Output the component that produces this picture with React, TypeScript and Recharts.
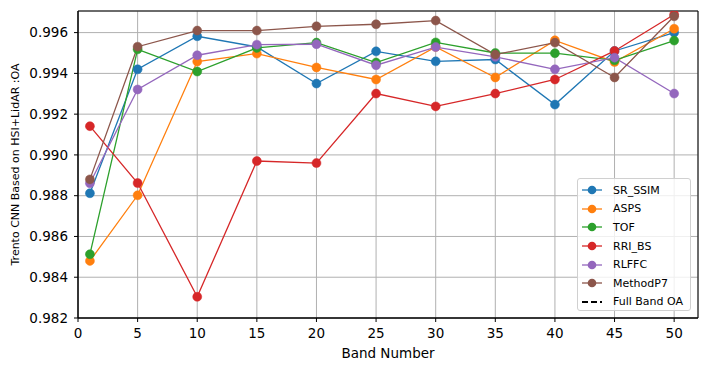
import React from 'react';
import { LineChart, Line, XAxis, YAxis, CartesianGrid, ReferenceArea, Label } from 'recharts';

const bands = [1, 5, 10, 15, 20, 25, 30, 35, 40, 45, 50];

const srSsim = [0.98812, 0.9942, 0.99582, 0.9953, 0.9935, 0.99508, 0.99459, 0.99468, 0.99247, 0.9951, 0.996];
const asps = [0.9848, 0.98802, 0.99458, 0.99497, 0.99429, 0.9937, 0.9953, 0.9938, 0.99562, 0.99456, 0.99619];
const tof = [0.98513, 0.99518, 0.99409, 0.99525, 0.99551, 0.99453, 0.99552, 0.995, 0.99499, 0.99464, 0.99561];
const rriBs = [0.99141, 0.98862, 0.98304, 0.9897, 0.9896, 0.99301, 0.99238, 0.99301, 0.9937, 0.9951, 0.99689];
const rlffc = [0.98861, 0.99321, 0.99489, 0.99541, 0.99543, 0.9944, 0.99529, 0.99481, 0.9942, 0.99477, 0.99301];
const methodP7 = [0.9888, 0.99531, 0.9961, 0.9961, 0.99631, 0.99641, 0.99659, 0.99492, 0.99551, 0.9938, 0.9968];

const xTicks = [0, 5, 10, 15, 20, 25, 30, 35, 40, 45, 50];
const yTicks = [0.982, 0.984, 0.986, 0.988, 0.99, 0.992, 0.994, 0.996];

const series = [
  { key: 'SR_SSIM', values: srSsim, color: '#1f77b4' },
  { key: 'ASPS', values: asps, color: '#ff7f0e' },
  { key: 'TOF', values: tof, color: '#2ca02c' },
  { key: 'RRI_BS', values: rriBs, color: '#d62728' },
  { key: 'RLFFC', values: rlffc, color: '#9467bd' },
  { key: 'MethodP7', values: methodP7, color: '#8c564b' },
];

const data = bands.map((b, i) => {
  const row: Record<string, number> = { band: b };
  series.forEach((s) => {
    row[s.key] = s.values[i];
  });
  return row;
});

const font = '"DejaVu Sans", sans-serif';
const Y_MIN = 0.982;
const Y_MAX = 0.99706;

const ChartLegend = () => (
  <div
    style={{
      position: 'absolute',
      left: 577,
      top: 178,
      width: 114,
      height: 133,
      boxSizing: 'border-box',
      border: '1px solid #d0d0d0',
      borderRadius: 3,
      background: 'rgba(255,255,255,0.8)',
      fontFamily: font,
      fontSize: 11,
      color: '#000',
      paddingTop: 2,
    }}
  >
    {series.map((s) => (
      <div key={s.key} style={{ display: 'flex', alignItems: 'center', height: 18.6 }}>
        <svg width={32} height={12} style={{ marginLeft: 3 }}>
          <line x1={1} y1={6} x2={21} y2={6} stroke={s.color} strokeWidth={1.3} />
          <circle cx={11} cy={6} r={4.3} fill={s.color} />
        </svg>
        <span>{s.key}</span>
      </div>
    ))}
    <div style={{ display: 'flex', alignItems: 'center', height: 18.6 }}>
      <svg width={32} height={12} style={{ marginLeft: 3 }}>
        <line x1={1} y1={6} x2={21} y2={6} stroke="#000" strokeWidth={2} strokeDasharray="6 3" />
      </svg>
      <span>Full Band OA</span>
    </div>
  </div>
);

const App = () => {
  return (
    <div style={{ position: 'absolute', left: 0, top: 0, width: 708, height: 371, background: '#fff' }}>
      <LineChart width={708} height={371} data={data} margin={{ top: 11, right: 10, left: 0, bottom: 0 }}>
        <CartesianGrid stroke="#b0b0b0" strokeWidth={1} verticalPoints={undefined} />
        <XAxis
          dataKey="band"
          type="number"
          domain={[0, 52]}
          ticks={xTicks}
          allowDataOverflow
          height={53}
          tickSize={4}
          tickMargin={6}
          stroke="#000"
          tick={{ fill: '#000', fontSize: 13.5, fontFamily: font }}
          axisLine={{ stroke: '#000', strokeWidth: 1 }}
          tickLine={{ stroke: '#000' }}
        >
          <Label
            content={(props: any) => {
              const vb = props.viewBox;
              return (
                <text x={vb.x + vb.width / 2} y={358} textAnchor="middle" fontSize={13.5} fontFamily={font} fill="#000">
                  Band Number
                </text>
              );
            }}
          />
        </XAxis>
        <YAxis
          type="number"
          domain={[Y_MIN, Y_MAX]}
          ticks={yTicks}
          allowDataOverflow
          width={78}
          tickSize={4}
          tickMargin={6}
          tickFormatter={(v: number) => v.toFixed(3)}
          tick={{ fill: '#000', fontSize: 13.5, fontFamily: font }}
          axisLine={{ stroke: '#000', strokeWidth: 1 }}
          tickLine={{ stroke: '#000' }}
        >
          <Label
            content={(props: any) => {
              const vb = props.viewBox;
              const cx = 15;
              const cy = vb.y + vb.height / 2;
              return (
                <text
                  x={cx}
                  y={cy}
                  transform={`rotate(-90, ${cx}, ${cy})`}
                  textAnchor="middle"
                  dominantBaseline="central"
                  fontSize={11}
                  fontFamily={font}
                  fill="#000"
                >
                  Trento CNN Based on HSI+LidAR :OA
                </text>
              );
            }}
          />
        </YAxis>
        {series.map((s) => (
          <Line
            key={s.key}
            dataKey={s.key}
            type="linear"
            stroke={s.color}
            strokeWidth={1.3}
            dot={{ r: 4.5, fill: s.color, stroke: s.color, strokeWidth: 0.5 }}
            activeDot={false}
            isAnimationActive={false}
          />
        ))}
        <ReferenceArea x1={0} x2={52} y1={Y_MIN} y2={Y_MAX} fill="none" stroke="#000" strokeWidth={1} ifOverflow="visible" />
      </LineChart>
      <ChartLegend />
    </div>
  );
};

export default App;
